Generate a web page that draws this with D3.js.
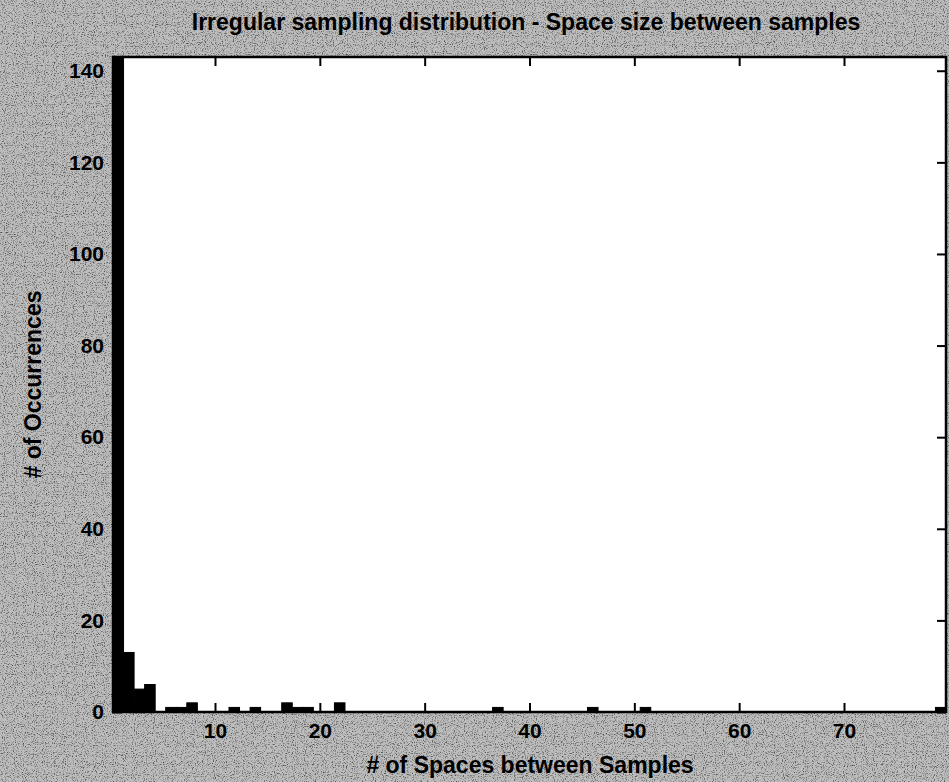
<!DOCTYPE html>
<html>
<head>
<meta charset="utf-8">
<script src="https://cdn.jsdelivr.net/npm/d3@7/dist/d3.min.js"></script>
<style>
  html, body { margin: 0; padding: 0; background: #a8a8a8; }
  svg { display: block; }
  text { font-family: "Liberation Sans", Arial, Helvetica, sans-serif; font-weight: bold; fill: #000; }
</style>
</head>
<body>
<svg id="chart" width="949" height="782"></svg>
<script>
// Histogram of gap sizes between irregular samples (79 equal-width bins)
const xMin = 0.27;
const xMax = 79.73;
const counts = [
  143, 13, 5, 6, 0, 1, 1, 2, 0, 0,
  0, 1, 0, 1, 0, 0, 2, 1, 1, 0,
  0, 2, 0, 0, 0, 0, 0, 0, 0, 0,
  0, 0, 0, 0, 0, 0, 1, 0, 0, 0,
  0, 0, 0, 0, 0, 1, 0, 0, 0, 0,
  1, 0, 0, 0, 0, 0, 0, 0, 0, 0,
  0, 0, 0, 0, 0, 0, 0, 0, 0, 0,
  0, 0, 0, 0, 0, 0, 0, 0, 1
];
const yMax = 143;
const xTicks = [10, 20, 30, 40, 50, 60, 70];
const yTicks = [0, 20, 40, 60, 80, 100, 120, 140];
const titleText = "Irregular sampling distribution - Space size between samples";
const xLabel = "# of Spaces between Samples";
const yLabel = "# of Occurrences";

const W = 949, H = 782;
const plot = { left: 113, right: 946, top: 57, bottom: 712 };
const svg = d3.select("#chart");

// grainy grey paper background
const defs = svg.append("defs");
const f = defs.append("filter").attr("id", "grain")
  .attr("x", 0).attr("y", 0).attr("width", "100%").attr("height", "100%");
f.append("feTurbulence").attr("type", "fractalNoise")
  .attr("baseFrequency", 0.9).attr("numOctaves", 2).attr("seed", 7).attr("result", "n");
f.append("feColorMatrix").attr("type", "matrix")
  .attr("values", "0 0 0 0 0  0 0 0 0 0  0 0 0 0 0  0 0 0 -3 1.5")
  .attr("in", "n").attr("result", "dots");
svg.append("rect").attr("width", W).attr("height", H).attr("fill", "#bdbdbd");
svg.append("rect").attr("width", W).attr("height", H)
  .attr("fill", "#000").attr("filter", "url(#grain)").attr("opacity", 0.6);

// white axes area
svg.append("rect")
  .attr("x", plot.left).attr("y", plot.top)
  .attr("width", plot.right - plot.left).attr("height", plot.bottom - plot.top)
  .attr("fill", "#fff");

const x = d3.scaleLinear().domain([xMin, xMax]).range([plot.left, plot.right]);
const y = d3.scaleLinear().domain([0, yMax]).range([plot.bottom, plot.top]);
const binW = (xMax - xMin) / counts.length;

// bars
svg.append("g").selectAll("rect")
  .data(counts.map((c, i) => ({ c, i })).filter(d => d.c > 0))
  .join("rect")
  .attr("x", d => x(xMin + d.i * binW))
  .attr("width", d => x(xMin + (d.i + 1) * binW) - x(xMin + d.i * binW))
  .attr("y", d => y(d.c))
  .attr("height", d => y(0) - y(d.c))
  .attr("fill", "#000")
  .attr("stroke", "#000").attr("stroke-width", 1);

// axes, ticks pointing inward on all four sides
const tickLen = 9;
const axisBottom = d3.axisBottom(x).tickValues(xTicks).tickSize(0).tickPadding(11).tickFormat(d3.format("d"));
const axisLeft = d3.axisLeft(y).tickValues(yTicks).tickSize(0).tickPadding(9).tickFormat(d3.format("d"));
const axisTop = d3.axisTop(x).tickValues(xTicks).tickSize(-tickLen).tickFormat("");
const axisRight = d3.axisRight(y).tickValues(yTicks).tickSize(-tickLen).tickFormat("");
const axisBottomTicks = d3.axisBottom(x).tickValues(xTicks).tickSize(-tickLen).tickFormat("");
const axisLeftTicks = d3.axisLeft(y).tickValues(yTicks).tickSize(-tickLen).tickFormat("");

function styleAxis(g) {
  g.select(".domain").remove();
  g.selectAll("line").attr("stroke", "#000").attr("stroke-width", 2);
  g.selectAll("text").attr("font-size", 21).attr("font-family", null);
}

svg.append("g").attr("transform", `translate(0,${plot.top})`).call(axisTop).call(styleAxis);
svg.append("g").attr("transform", `translate(${plot.right},0)`).call(axisRight).call(styleAxis);
svg.append("g").attr("transform", `translate(0,${plot.bottom})`).call(axisBottomTicks).call(styleAxis);
svg.append("g").attr("transform", `translate(${plot.left},0)`).call(axisLeftTicks).call(styleAxis);
svg.append("g").attr("transform", `translate(0,${plot.bottom})`).call(axisBottom).call(styleAxis);
svg.append("g").attr("transform", `translate(${plot.left},0)`).call(axisLeft).call(styleAxis);

// frame
svg.append("rect")
  .attr("x", plot.left).attr("y", plot.top)
  .attr("width", plot.right - plot.left).attr("height", plot.bottom - plot.top)
  .attr("fill", "none").attr("stroke", "#000").attr("stroke-width", 2.5);

// titles
svg.append("text").attr("x", 526).attr("y", 30).attr("text-anchor", "middle")
  .attr("font-size", 23).text(titleText);
svg.append("text").attr("x", 530).attr("y", 773).attr("text-anchor", "middle")
  .attr("font-size", 23).text(xLabel);
svg.append("text").attr("transform", `translate(41,${(plot.top + plot.bottom) / 2}) rotate(-90)`)
  .attr("text-anchor", "middle").attr("font-size", 23).text(yLabel);
</script>
</body>
</html>
